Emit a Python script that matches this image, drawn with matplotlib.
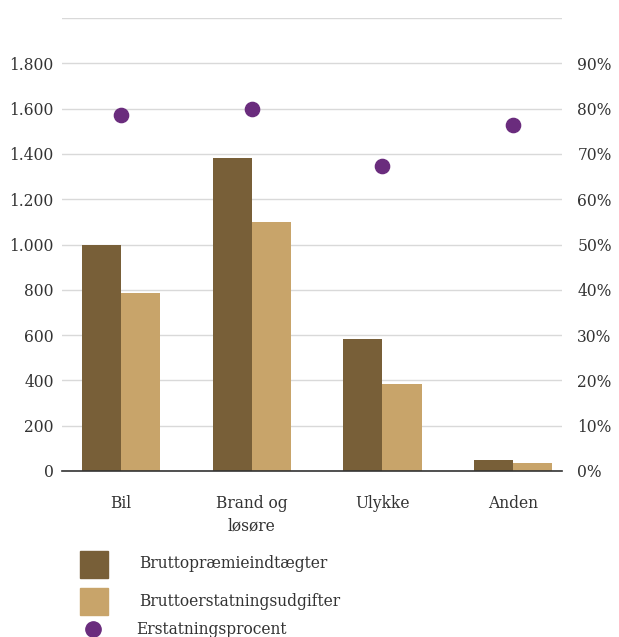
import numpy as np
import matplotlib.pyplot as plt
from matplotlib.patches import Rectangle
from matplotlib.lines import Line2D
from matplotlib.ticker import FuncFormatter

plt.rcParams['font.family'] = ['DejaVu Serif']

categories = ['Bil', 'Brand og\nløsøre', 'Ulykke', 'Anden']
praemie = [1000, 1380, 582, 49]
erstatning = [786, 1100, 384, 35]
procent = [78.6, 80.0, 67.3, 76.4]

dark = '#785f38'
light = '#c8a46a'
purple = '#6a2c7d'
txt = '#333333'
fs = 11.2

fig = plt.figure(figsize=(6.19, 6.37), dpi=100)
ax = fig.add_axes([0.1002, 0.2606, 0.8078, 0.7111])

x = np.arange(len(categories))
w = 0.30
ax.bar(x - w / 2, praemie, w, color=dark, zorder=3)
ax.bar(x + w / 2, erstatning, w, color=light, zorder=3)

ax.set_xlim(-0.452, 3.375)
ax.set_ylim(0, 2000)
ax.set_yticks(np.arange(0, 2001, 200))
ax.yaxis.set_major_formatter(FuncFormatter(
    lambda v, p: '' if v >= 2000 else f'{int(v):,}'.replace(',', '.')))
ax.grid(axis='y', color='#d9d9d9', linewidth=1, zorder=0)
ax.set_xticks(x)
ax.set_xticklabels(categories, fontsize=fs, color=txt, linespacing=1.45)
ax.tick_params(axis='x', length=0, pad=17)
ax.tick_params(axis='y', length=0, pad=6, labelsize=fs, labelcolor=txt)
for s in ['top', 'left', 'right']:
    ax.spines[s].set_visible(False)
ax.spines['bottom'].set_color(txt)
ax.spines['bottom'].set_linewidth(1.2)
ax.spines['bottom'].set_zorder(4)

ax2 = ax.twinx()
ax2.set_ylim(0, 100)
ax2.set_yticks(np.arange(0, 91, 10))
ax2.yaxis.set_major_formatter(FuncFormatter(lambda v, p: f'{int(v)}%'))
ax2.tick_params(axis='y', length=0, pad=11, labelsize=fs, labelcolor=txt)
for s in ax2.spines.values():
    s.set_visible(False)
ax2.scatter(x, procent, s=105, color=purple, zorder=5)

# legend drawn by hand below the axes
fig.patches.append(Rectangle((80 / 619, 1 - 578 / 637), 28 / 619, 27 / 637,
                             color=dark, transform=fig.transFigure))
fig.patches.append(Rectangle((80 / 619, 1 - 615 / 637), 28 / 619, 27 / 637,
                             color=light, transform=fig.transFigure))
fig.lines.append(Line2D([93 / 619], [1 - 629 / 637], marker='o', markersize=11,
                        color=purple, linestyle='none', transform=fig.transFigure))
fig.text(139 / 619, 1 - 564 / 637, 'Bruttopræmieindtægter', fontsize=fs,
         color=txt, va='center')
fig.text(139 / 619, 1 - 601 / 637, 'Bruttoerstatningsudgifter', fontsize=fs,
         color=txt, va='center')
fig.text(136 / 619, 1 - 630 / 637, 'Erstatningsprocent', fontsize=fs,
         color=txt, va='center')

fig.savefig('out.png', dpi=100)
